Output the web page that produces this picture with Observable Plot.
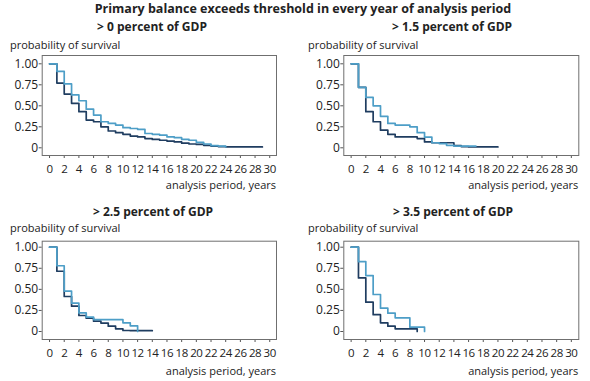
<!DOCTYPE html>
<html>
<head>
<meta charset="utf-8">
<script src="https://cdn.jsdelivr.net/npm/d3@7"></script>
<script src="https://cdn.jsdelivr.net/npm/@observablehq/plot@0.6"></script>
<style>
  html, body { margin: 0; padding: 0; background: #fff; }
  #root { position: relative; width: 590px; height: 381px; overflow: hidden; font-family: "Open Sans", sans-serif; color: #222; }
  .t { position: absolute; white-space: nowrap; line-height: 1; }
  .main { font-weight: bold; font-size: 12.5px; transform: translate(-50%, -50%); }
  .ptitle { font-weight: bold; font-size: 12px; transform: translate(-50%, -50%); }
  .ylab { font-size: 11px; transform: translateY(-50%); }
  .xlab { font-size: 11px; transform: translate(-100%, -50%); }
  .panel { position: absolute; }
  .panel svg g[aria-label="x-axis tick label"] text { letter-spacing: -0.4px; }
</style>
</head>
<body>
<div id="root"></div>
<script>
// ---- text ----
const chartTitle = "Primary balance exceeds threshold in every year of analysis period";
const panelTitles = ["> 0 percent of GDP", "> 1.5 percent of GDP", "> 2.5 percent of GDP", "> 3.5 percent of GDP"];
const yAxisLabel = "probability of survival";
const xAxisLabel = "analysis period, years";

// ---- ticks ----
const xTicks = [0, 2, 4, 6, 8, 10, 12, 14, 16, 18, 20, 22, 24, 26, 28, 30];
const yTicks = [0, 0.25, 0.5, 0.75, 1];
const yTickLabels = ["0", "0.25", "0.50", "0.75", "1.00"];

// ---- series (value from year i to i+1; last entry is the end point) ----
const seriesNames = ["dark", "light"];
const p0Dark  = [1.00,0.77,0.64,0.53,0.43,0.33,0.31,0.25,0.20,0.18,0.16,0.14,0.13,0.11,0.10,0.09,0.08,0.07,0.055,0.045,0.04,0.03,0.02,0.015,0.01,0.01,0.01,0.01,0.01,0.01];
const p0Light = [1.00,0.91,0.76,0.63,0.56,0.46,0.39,0.31,0.29,0.27,0.24,0.23,0.22,0.17,0.16,0.15,0.13,0.12,0.10,0.09,0.065,0.045,0.025,0.02,0.01];
const p15Dark  = [1.00,0.72,0.43,0.31,0.21,0.16,0.13,0.13,0.13,0.11,0.07,0.06,0.06,0.06,0.025,0.015,0.01,0.01,0.01,0.01,0.01];
const p15Light = [1.00,0.72,0.60,0.50,0.375,0.29,0.27,0.27,0.25,0.18,0.127,0.06,0.05,0.03,0.02,0.02,0.02,0.02];
const p25Dark  = [1.00,0.715,0.415,0.30,0.19,0.158,0.123,0.10,0.063,0.032,0.012,0.01,0.01,0.01,0.01];
const p25Light = [1.00,0.78,0.48,0.336,0.22,0.17,0.142,0.142,0.142,0.142,0.103,0.067,0];
const p35Dark  = [1.00,0.636,0.348,0.20,0.103,0.063,0.032,0.032,0.032,0];
const p35Light = [1.00,0.83,0.664,0.439,0.277,0.217,0.162,0.162,0.051,0.051,0];

const panelSeries = [[p0Dark, p0Light], [p15Dark, p15Light], [p25Dark, p25Light], [p35Dark, p35Light]];
const colors = ["#1f3d60", "#4d9ec7"];

// ---- layout ----
const layouts = [
  {left: 0,   top: 47,  frameL: 41.7,  frameR: 276,   frameT: 55,    frameB: 155, y1: 63.3,  y0: 147.3, title: [152, 27],  ylab: [10, 44],    xlabY: 184},
  {left: 295, top: 47,  frameL: 343.3, frameR: 578.3, frameT: 55,    frameB: 155, y1: 63.3,  y0: 147.3, title: [452, 27],  ylab: [308, 44],   xlabY: 184},
  {left: 0,   top: 233, frameL: 41.7,  frameR: 276,   frameT: 240.7, frameB: 339, y1: 246.7, y0: 331,   title: [153, 212], ylab: [10, 227],   xlabY: 370},
  {left: 295, top: 233, frameL: 343.3, frameR: 578.3, frameT: 240.7, frameB: 339, y1: 246.7, y0: 331,   title: [453, 212], ylab: [308, 227],  xlabY: 370}
];

const root = document.getElementById("root");
function addText(cls, txt, x, y) {
  const d = document.createElement("div");
  d.className = "t " + cls;
  d.textContent = txt;
  d.style.left = x + "px";
  d.style.top = y + "px";
  root.appendChild(d);
}
addText("main", chartTitle, 303, 9);

layouts.forEach((L, i) => {
  const [dark, light] = panelSeries[i];
  const data = [];
  [dark, light].forEach((arr, s) => arr.forEach((v, yr) => data.push({year: yr, p: v, series: seriesNames[s]})));
  const W = 295, H = 140;
  const pxPerYear = 7.34;
  const x0px = L.frameL + pxPerYear; // year 0 position
  const xMin = -1, xMax = (L.frameR - x0px) / pxPerYear;
  const unit = L.y0 - L.y1;
  const yMax = (L.y0 - L.frameT) / unit, yMin = (L.y0 - L.frameB) / unit;
  const plot = Plot.plot({
    width: W, height: H,
    marginLeft: L.frameL - L.left,
    marginRight: W - (L.frameR - L.left),
    marginTop: L.frameT - L.top,
    marginBottom: H - (L.frameB - L.top),
    style: {fontFamily: "Open Sans, sans-serif", fontSize: "11.5px", color: "#222", background: "transparent"},
    x: {domain: [xMin, xMax], label: null},
    y: {domain: [yMin, yMax], label: null},
    color: {domain: seriesNames, range: colors},
    marks: [
      Plot.axisX(xTicks, {tickSize: 3, tickPadding: 6, tickFormat: d => String(d), stroke: "#555", label: null}),
      Plot.axisY(yTicks, {tickSize: 3, tickPadding: 1, tickFormat: d => yTickLabels[yTicks.indexOf(d)], stroke: "#555", label: null, fontSize: 12}),
      Plot.line(data, {x: "year", y: "p", z: "series", stroke: "series", curve: "step-after", strokeWidth: 1.7}),
      Plot.frame({stroke: "#6f6f6f", strokeWidth: 1})
    ]
  });
  const wrap = document.createElement("div");
  wrap.className = "panel";
  wrap.style.left = L.left + "px";
  wrap.style.top = L.top + "px";
  wrap.appendChild(plot);
  root.appendChild(wrap);
  addText("ptitle", panelTitles[i], L.title[0], L.title[1]);
  addText("ylab", yAxisLabel, L.ylab[0], L.ylab[1]);
  addText("xlab", xAxisLabel, L.frameR, L.xlabY);
});
</script>
</body>
</html>
